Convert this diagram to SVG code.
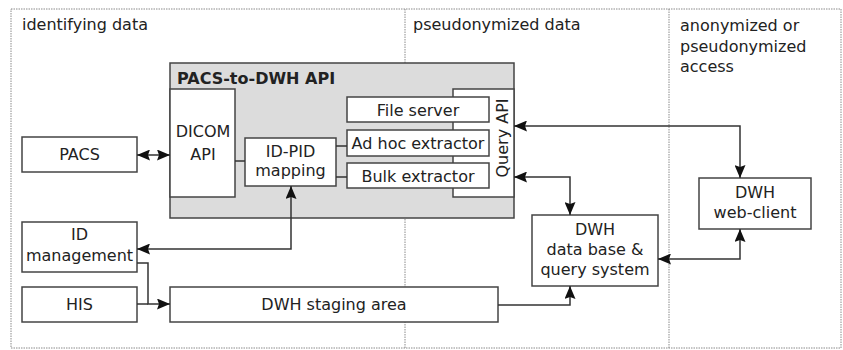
<svg xmlns="http://www.w3.org/2000/svg" width="843" height="350" viewBox="0 0 843 350">
  <style>
    text { font-family: "DejaVu Sans", "Liberation Sans", sans-serif; font-size: 16px; fill: #222; }
    .mid { text-anchor: middle; }
    .title { font-weight: bold; }
    .zone { fill: none; stroke: #8a8a8a; stroke-width: 1; stroke-dasharray: 1.5 1; }
    .box { fill: #fff; stroke: #444; stroke-width: 1.5; }
    .panel { fill: #dcdcdc; stroke: #444; stroke-width: 1.5; }
    .wire { fill: none; stroke: #333; stroke-width: 1.5; }
  </style>
  <defs>
    <marker id="arrow" viewBox="0 0 13 11" refX="13" refY="5.5" markerWidth="13" markerHeight="11" markerUnits="userSpaceOnUse" orient="auto-start-reverse">
      <path d="M0,0 L13,5.5 L0,11 L2,5.5 z" fill="#111"/>
    </marker>
  </defs>

  <rect width="843" height="350" fill="#fff"/>

  <!-- data protection zones -->
  <g id="zones">
    <rect class="zone" x="11" y="9" width="830" height="339"/>
    <line class="zone" x1="405" y1="9" x2="405" y2="348"/>
    <line class="zone" x1="669" y1="9" x2="669" y2="348"/>
    <text x="22" y="30">identifying data</text>
    <text x="413" y="30">pseudonymized data</text>
    <text x="680" y="31">anonymized or</text>
    <text x="680" y="51.5">pseudonymized</text>
    <text x="680" y="72">access</text>
  </g>

  <!-- API container -->
  <g id="pacs-to-dwh-api">
    <rect class="panel" x="170" y="63" width="344" height="155"/>
    <text class="title" x="177" y="84">PACS-to-DWH API</text>
  </g>

  <g id="query-api">
    <rect class="box" x="453" y="89" width="61" height="108"/>
    <text class="mid" transform="translate(508,138) rotate(-90)">Query API</text>
  </g>

  <g id="dicom-api">
    <rect class="box" x="170" y="89" width="65" height="108"/>
    <text class="mid" x="203" y="137">DICOM</text>
    <text class="mid" x="203" y="160">API</text>
  </g>

  <g id="id-pid-mapping">
    <rect class="box" x="245" y="138" width="91" height="48"/>
    <text class="mid" x="290.5" y="157">ID-PID</text>
    <text class="mid" x="290.5" y="176">mapping</text>
  </g>

  <g id="file-server">
    <rect class="box" x="347" y="97" width="142" height="25"/>
    <text class="mid" x="418" y="116">File server</text>
  </g>

  <g id="adhoc-extractor">
    <rect class="box" x="347" y="130" width="142" height="26"/>
    <text class="mid" x="418" y="149">Ad hoc extractor</text>
  </g>

  <g id="bulk-extractor">
    <rect class="box" x="347" y="163" width="142" height="25"/>
    <text class="mid" x="418" y="181.5">Bulk extractor</text>
  </g>

  <g id="pacs">
    <rect class="box" x="22" y="137" width="115" height="35"/>
    <text class="mid" x="79.5" y="160">PACS</text>
  </g>

  <g id="id-management">
    <rect class="box" x="22" y="222" width="115" height="50"/>
    <text class="mid" x="79.5" y="240">ID</text>
    <text class="mid" x="79.5" y="261">management</text>
  </g>

  <g id="his">
    <rect class="box" x="22" y="287" width="115" height="35"/>
    <text class="mid" x="79.5" y="310">HIS</text>
  </g>

  <g id="dwh-staging">
    <rect class="box" x="170" y="287" width="328" height="35"/>
    <text class="mid" x="334" y="310">DWH staging area</text>
  </g>

  <g id="dwh-database">
    <rect class="box" x="532" y="215" width="126" height="71"/>
    <text class="mid" x="595" y="235">DWH</text>
    <text class="mid" x="595" y="255">data base &amp;</text>
    <text class="mid" x="595" y="275">query system</text>
  </g>

  <g id="dwh-web-client">
    <rect class="box" x="699" y="178" width="112" height="51"/>
    <text class="mid" x="755" y="198">DWH</text>
    <text class="mid" x="755" y="218">web-client</text>
  </g>

  <!-- connectors -->
  <g id="connectors">
    <path class="wire" d="M137,155 H170" marker-start="url(#arrow)" marker-end="url(#arrow)"/>
    <path class="wire" d="M235,161 H245"/>
    <path class="wire" d="M336,146 H347"/>
    <path class="wire" d="M336,177 H347"/>
    <path class="wire" d="M137,249 H291 V186" marker-start="url(#arrow)" marker-end="url(#arrow)"/>
    <path class="wire" d="M137,263 H148 V304 H170" marker-end="url(#arrow)"/>
    <path class="wire" d="M137,304 H148"/>
    <path class="wire" d="M498,305 H570 V286" marker-end="url(#arrow)"/>
    <path class="wire" d="M514,177 H570 V215" marker-start="url(#arrow)" marker-end="url(#arrow)"/>
    <path class="wire" d="M514,126 H740 V178" marker-start="url(#arrow)" marker-end="url(#arrow)"/>
    <path class="wire" d="M658,259 H740 V229" marker-start="url(#arrow)" marker-end="url(#arrow)"/>
  </g>
</svg>
